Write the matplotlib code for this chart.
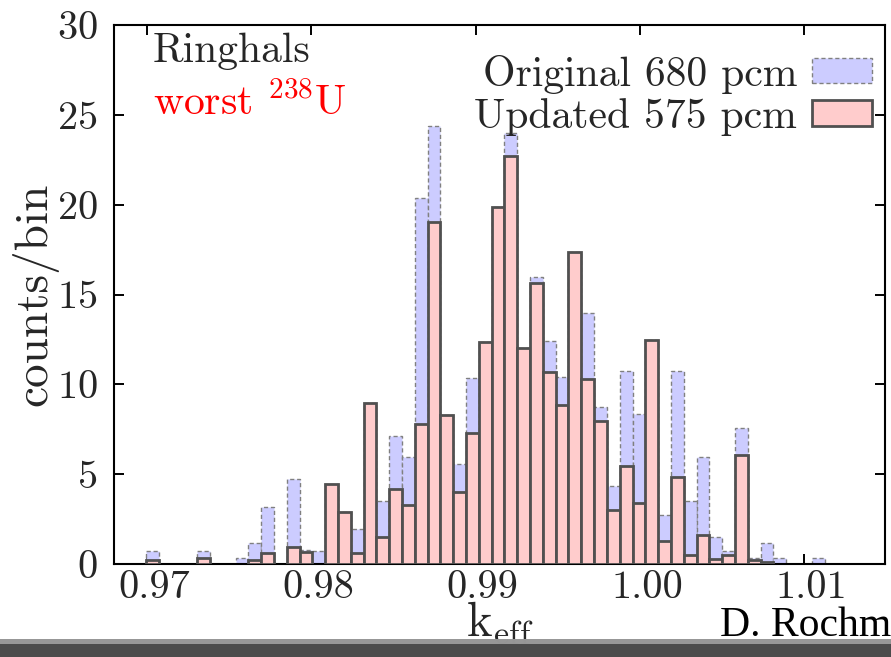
import matplotlib
matplotlib.use('Agg')
import matplotlib.pyplot as plt
import matplotlib.transforms as mtransforms
from matplotlib.patches import Rectangle, Patch
import numpy as np

plt.rcParams['font.family'] = 'cmr10'
plt.rcParams['mathtext.fontset'] = 'cm'
plt.rcParams['axes.formatter.use_mathtext'] = True

# histogram: first bin edge, bin width (k_eff)
first_edge = 0.96994
bin_width = 0.000779

# counts per bin (53 bins)
original = [0.75, 0, 0, 0, 0.75, 0, 0, 0.32, 1.15, 3.15,
            0, 4.75, 0.78, 0.74, 4.45, 2.91, 1.93, 8.94, 3.52, 7.14,
            5.95, 20.37, 24.39, 8.27, 5.55, 10.37, 12.37, 19.85, 23.97, 12.0,
            15.97, 12.39, 10.39, 17.34, 13.99, 8.76, 4.36, 10.76, 8.35, 12.47,
            2.74, 10.76, 3.52, 5.95, 1.52, 0.74, 7.55, 0.32, 1.15, 0.35,
            0, 0, 0.35]
updated = [0.2, 0, 0, 0, 0.35, 0, 0, 0, 0.2, 0.63,
           0, 0.96, 0.65, 0, 4.45, 2.91, 0.59, 8.94, 1.52, 4.15,
           3.27, 7.79, 19.05, 8.27, 4.03, 7.27, 12.37, 19.85, 22.72, 12.0,
           15.65, 10.67, 8.83, 17.34, 10.31, 7.94, 3.0, 5.45, 3.41, 12.47,
           1.28, 4.86, 0.52, 1.6, 0.26, 0.52, 6.07, 0.22, 0.1, 0,
           0, 0, 0]

xticks = [0.97, 0.98, 0.99, 1.00, 1.01]
xticklabels = ['0.97', '0.98', '0.99', '1.00', '1.01']
yticks = [0, 5, 10, 15, 20, 25, 30]

blue_fill = '#ccccff'
red_fill = '#ffcccc'
txt = '#262626'

fig = plt.figure(figsize=(8.91, 6.57), dpi=100)
ax = fig.add_axes([114/891, 93/657, 771/891, 539/657])

orig = np.array(original)
upd = np.array(updated)
lo = first_edge + bin_width*np.arange(len(orig))

m = orig > 0
ax.bar(lo[m], orig[m], width=bin_width, align='edge', color=blue_fill,
       edgecolor='#808080', linestyle=(0, (3, 2)), linewidth=1.0, zorder=2)
m = upd > 0
ax.bar(lo[m], upd[m], width=bin_width, align='edge', color=red_fill,
       edgecolor='#505050', linewidth=2.0, zorder=3)

ax.set_xlim(0.968, 1.0149)
ax.set_ylim(0, 30)
ax.set_xticks(xticks)
ax.set_xticklabels(xticklabels)
ax.set_yticks(yticks)

ax.tick_params(direction='in', length=7.5, width=1.4, top=True, right=True,
               labelsize=29, colors='black', labelcolor=txt)
ax.tick_params(axis='y', pad=12)
ax.tick_params(axis='x', pad=4.5)
for s in ax.spines.values():
    s.set_linewidth(1.5)

offset = mtransforms.ScaledTranslation(7/100, 0, fig.dpi_scale_trans)
for lab in ax.get_xticklabels():
    lab.set_transform(lab.get_transform() + offset)

ax.set_ylabel('counts/bin', fontsize=34, color=txt)
ax.yaxis.set_label_coords(-0.072, 0.5)
ax.set_xlabel(r'$\mathrm{k}_{\mathrm{eff}}$', fontsize=35, color=txt)
ax.xaxis.set_label_coords(0.5, -0.066)

ax.text(0.0506, 0.931, 'Ringhals', transform=ax.transAxes, fontsize=30,
        color=txt, va='baseline')
ax.text(0.0506, 0.833, r'worst $^{238}$U', transform=ax.transAxes, fontsize=30,
        color='red', va='baseline')

handles = [Patch(facecolor=blue_fill, edgecolor='#808080', linestyle=(0, (3, 2)), linewidth=1.0),
           Patch(facecolor=red_fill, edgecolor='#505050', linewidth=2.0)]
ax.legend(handles, ['Original 680 pcm', 'Updated 575 pcm'], loc='upper right',
          bbox_to_anchor=(1.005, 0.976), frameon=False, fontsize=30, markerfirst=False,
          handlelength=1.45, handleheight=0.55, handletextpad=0.35,
          labelspacing=0.1, borderaxespad=0.0, labelcolor=txt)

fig.text(891/891, 21/657, 'D. Rochm', fontsize=30, family='Liberation Serif',
         ha='right', va='baseline', color='black')

# screenshot bar along the bottom
fig.patches.append(Rectangle((0, 0), 1, 18/657, transform=fig.transFigure,
                             facecolor='#3c3c3c', edgecolor='none', alpha=0.92, zorder=20))
fig.patches.append(Rectangle((0, 13/657), 1, 5/657, transform=fig.transFigure,
                             facecolor='#a0a0a0', edgecolor='none', alpha=0.9, zorder=21))

fig.savefig('out.png', dpi=100)
